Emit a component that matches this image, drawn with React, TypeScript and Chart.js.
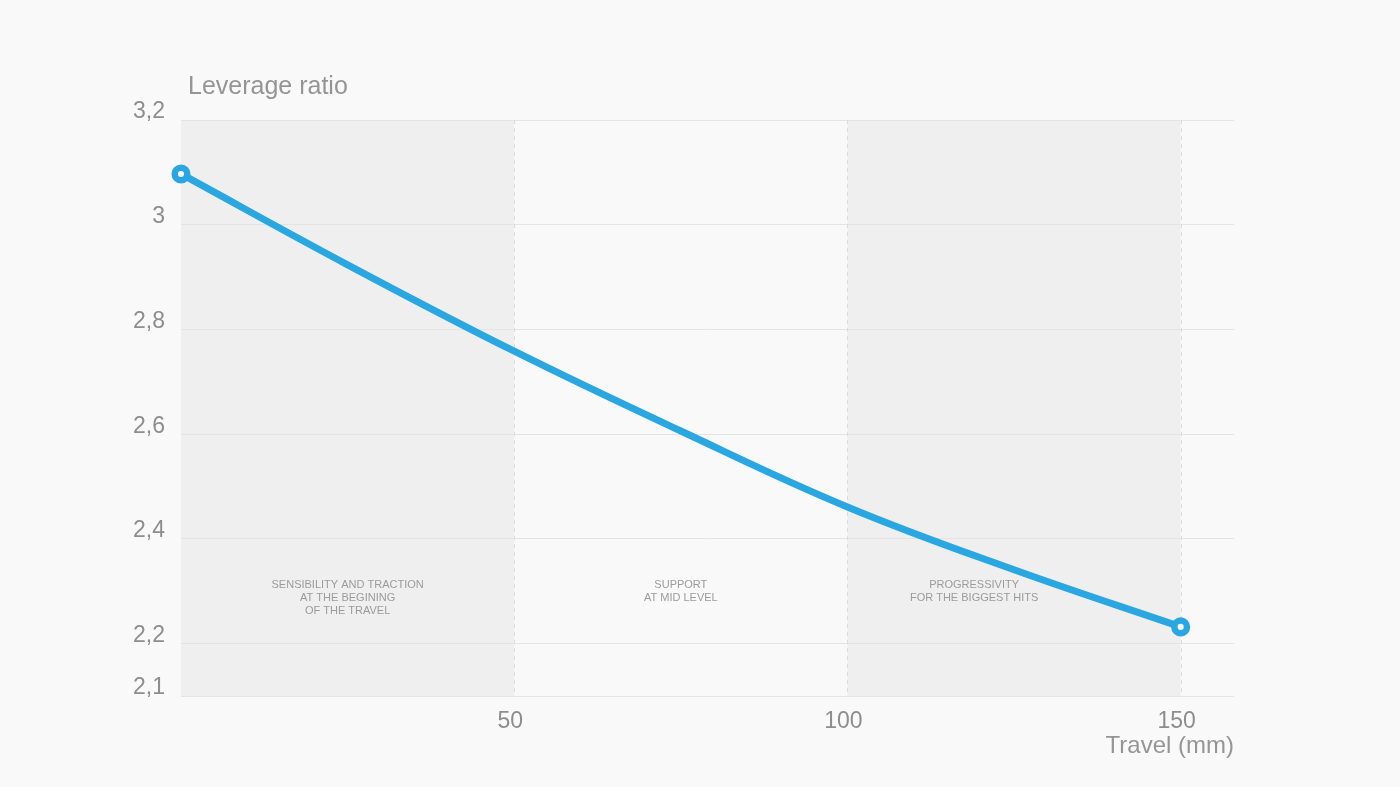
import React, { useEffect, useRef } from "react";
import { Chart, registerables } from "chart.js";

Chart.register(...registerables);

// ---- data ----
const travel = [0, 25, 50, 75, 100, 125, 150];
const leverage = [3.097, 2.9235, 2.7585, 2.606, 2.461, 2.341, 2.232];
const yTicks = [2.1, 2.2, 2.4, 2.6, 2.8, 3.0, 3.2];
const xTicks = [50, 100, 150];
const zoneStart = [0, 50, 100];
const zoneEnd = [50, 100, 150];
const zoneShaded = [true, false, true];
const zoneLabelX = [25, 75, 119];
const zoneLabelY = 2.312;
const zoneLabels = [
  ["SENSIBILITY AND TRACTION", "AT THE BEGINING", "OF THE TRAVEL"],
  ["SUPPORT", "AT MID LEVEL"],
  ["PROGRESSIVITY", "FOR THE BIGGEST HITS"],
];
const yTitle = "Leverage ratio";
const xTitle = "Travel (mm)";

const FONT = '"Liberation Sans", Arial, Helvetica, sans-serif';
const BG = "#f9f9f9";
const TEXT = "#8d8d8d";
const BLUE = "#2aa7e0";

const decorPlugin = {
  id: "decor",
  beforeDraw(chart: any) {
    const { ctx, chartArea, scales } = chart;
    const x = scales.x;
    ctx.save();
    ctx.fillStyle = BG;
    ctx.fillRect(0, 0, chart.width, chart.height);
    for (let i = 0; i < zoneStart.length; i++) {
      if (!zoneShaded[i]) continue;
      const x0 = x.getPixelForValue(zoneStart[i]);
      const x1 = x.getPixelForValue(zoneEnd[i]);
      ctx.fillStyle = "#efefef";
      ctx.fillRect(x0, chartArea.top, x1 - x0, chartArea.bottom - chartArea.top);
    }
    ctx.restore();
  },
  beforeDatasetsDraw(chart: any) {
    const { ctx, chartArea, scales } = chart;
    const x = scales.x;
    const y = scales.y;
    ctx.save();
    // dashed separators
    ctx.strokeStyle = "#dcdcdc";
    ctx.lineWidth = 1;
    ctx.setLineDash([4, 4]);
    for (const v of xTicks) {
      const px = Math.round(x.getPixelForValue(v)) + 0.5;
      ctx.beginPath();
      ctx.moveTo(px, chartArea.top);
      ctx.lineTo(px, chartArea.bottom);
      ctx.stroke();
    }
    ctx.setLineDash([]);
    // zone labels
    ctx.fillStyle = "#9b9b9b";
    ctx.font = `11px ${FONT}`;
    ctx.textAlign = "center";
    ctx.textBaseline = "middle";
    const ly = y.getPixelForValue(zoneLabelY);
    for (let i = 0; i < zoneLabels.length; i++) {
      const lx = x.getPixelForValue(zoneLabelX[i]);
      zoneLabels[i].forEach((t, j) => ctx.fillText(t, lx, ly + j * 13));
    }
    // titles
    ctx.fillStyle = "#959595";
    ctx.font = `25px ${FONT}`;
    ctx.textAlign = "left";
    ctx.fillText(yTitle, chartArea.left + 7, 87);
    ctx.textAlign = "right";
    ctx.font = `24px ${FONT}`;
    ctx.fillText(xTitle, chartArea.right, 746);
    ctx.restore();
  },
};

export default function App() {
  const ref = useRef<HTMLCanvasElement | null>(null);

  useEffect(() => {
    if (!ref.current) return;
    document.body.style.margin = "0";
    document.body.style.background = BG;
    const chart = new Chart(ref.current, {
      type: "line",
      data: {
        datasets: [
          {
            data: travel.map((t, i) => ({ x: t, y: leverage[i] })),
            borderColor: BLUE,
            borderWidth: 7,
            tension: 0.4,
            pointRadius: travel.map((_, i) => (i === 0 || i === travel.length - 1 ? 6.3 : 0)),
            pointHoverRadius: 0,
            pointBackgroundColor: "#ffffff",
            pointBorderColor: BLUE,
            pointBorderWidth: 6.5,
            fill: false,
            clip: false as any,
          },
        ],
      },
      options: {
        animation: false,
        responsive: true,
        maintainAspectRatio: false,
        layout: { padding: { left: 121, top: 120, right: 166, bottom: 31 } },
        plugins: {
          legend: { display: false },
          tooltip: { enabled: false },
        },
        scales: {
          x: {
            type: "linear",
            min: 0,
            max: 158,
            afterFit: (s: any) => {
              s.height = 60;
            },
            afterBuildTicks: (s: any) => {
              s.ticks = xTicks.map((v) => ({ value: v }));
            },
            grid: { display: false, drawTicks: false },
            border: { display: false },
            ticks: {
              color: TEXT,
              font: { family: FONT, size: 23 },
              padding: 12,
              maxRotation: 0,
              autoSkip: false,
              labelOffset: -4,
              callback: (v: any) => String(v),
            },
          },
          y: {
            type: "linear",
            min: 2.1,
            max: 3.2,
            afterFit: (s: any) => {
              s.width = 60;
            },
            afterBuildTicks: (s: any) => {
              s.ticks = yTicks.map((v) => ({ value: v }));
            },
            grid: { color: "#e4e4e4", lineWidth: 1, drawTicks: false },
            border: { display: false },
            ticks: {
              color: TEXT,
              font: { family: FONT, size: 23 },
              padding: 16,
              autoSkip: false,
              labelOffset: -8,
              callback: (v: any) => String(Math.round(Number(v) * 10) / 10).replace(".", ","),
            },
          },
        },
      },
      plugins: [decorPlugin],
    } as any);
    return () => chart.destroy();
  }, []);

  return (
    <div style={{ position: "fixed", left: 0, top: 0, width: 1400, height: 787, background: BG }}>
      <canvas ref={ref} />
    </div>
  );
}
